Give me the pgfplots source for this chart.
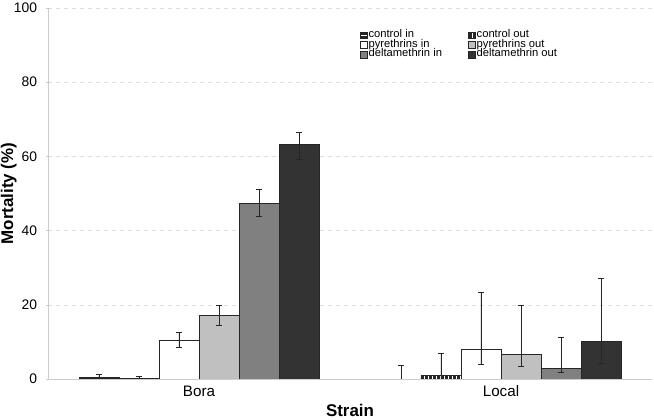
\documentclass[border=0pt]{standalone}
\usepackage{pgfplots}
\pgfplotsset{compat=1.18}
\usepackage{fontspec}
\setmainfont{Liberation Sans}
\usetikzlibrary{patterns}
\definecolor{pyrout}{HTML}{C0C0C0}
\definecolor{deltin}{HTML}{808080}
\definecolor{deltout}{HTML}{333333}
\begin{document}
\begin{tikzpicture}
\begin{axis}[
    name=ax,
    scale only axis,
    width=453pt, height=278.25pt,
    ybar, bar width=0.1325,
    xmin=-0.5, xmax=1.5,
    ymin=0, ymax=100,
    ytick={0,20,...,100},
    xtick={0,1}, xticklabels={Bora,Local},
    major x tick style={draw=none},
    extra x ticks={-0.5,0.5,1.5},
    extra x tick labels={},
    extra x tick style={major tick length=4pt, tick style={gray!40}},
    tick align=outside,
    major tick length=3pt,
    tick style={gray!40},
    axis x line=bottom, axis y line=left,
    axis line style={gray!40, -},
    ymajorgrids, grid style={dashed, gray!25},
    /pgf/number format/assume math mode=true,
    xticklabel style={font=\fontsize{11.4}{13}\selectfont},
    yticklabel style={font=\fontsize{10.4}{12}\selectfont, inner sep=0pt, xshift=-6.5pt},
    ylabel={\textbf{Mortality (\%)}},
    xlabel={\textbf{Strain}},
    label style={font=\fontsize{12.7}{14}\selectfont},
    ylabel style={at={(axis description cs:0,0.5)}, anchor=south, inner sep=0pt, yshift=23.25pt},
    xlabel style={at={(axis description cs:0.5,0)}, anchor=base, inner sep=0pt, yshift=-28.5pt},
    legend columns=2,
    legend cell align=left,
    legend style={draw=none, fill=none, inner sep=0pt, at={(0.5166,0.94)}, anchor=north west,
        font=\fontsize{8.4}{8.4}\selectfont, row sep=0pt,
        nodes={inner xsep=0.8pt, inner ysep=0pt, text height=5.4pt, text depth=1.8pt},
        /tikz/every even column/.append style={column sep=19pt}},
    legend image code/.code={\draw[#1] (0pt,-2.5pt) rectangle (5pt,2.5pt);},
    error bars/y dir=both, error bars/y explicit,
    error bars/error bar style={black!85, line width=0.6pt},
    error bars/error mark options={rotate=90, mark size=2.2pt, black!85, line width=0.6pt},
]
\addplot[bar shift=-0.33125, draw=black!85, fill=black!85, postaction={pattern=horizontal lines, pattern color=white}] coordinates {
    (0,0.6) += (0,0.7) -= (0,0.5)
};
\addlegendentry{control in}
\addplot[bar shift=-0.19875, draw=black!85, fill=black!85, postaction={pattern=vertical lines, pattern color=white}] coordinates {
    (0,0.2) += (0,0.5) -= (0,0.2)
    (1,1.0) += (0,5.8) -= (0,1.0)
};
\addlegendentry{control out}
\addplot[bar shift=-0.06625, draw=black!85, fill=white] coordinates {
    (0,10.4) += (0,2.2) -= (0,2.0)
    (1,8.0) += (0,15.4) -= (0,4.1)
};
\addlegendentry{pyrethrins in}
\addplot[bar shift=0.06625, draw=black!85, fill=pyrout] coordinates {
    (0,17.2) += (0,2.7) -= (0,2.8)
    (1,6.7) += (0,13.2) -= (0,3.4)
};
\addlegendentry{pyrethrins out}
\addplot[bar shift=0.19875, draw=black!85, fill=deltin] coordinates {
    (0,47.4) += (0,3.8) -= (0,3.5)
    (1,2.9) += (0,8.3) -= (0,1.1)
};
\addlegendentry{deltamethrin in}
\addplot[bar shift=0.33125, draw=black!85, fill=deltout] coordinates {
    (0,63.2) += (0,3.4) -= (0,3.9)
    (1,10.1) += (0,17.0) -= (0,5.9)
};
\addlegendentry{deltamethrin out}
% Local, control in: value 0, only its error bar shows
\addplot[bar shift=-0.33125, draw=none, fill=none, forget plot] coordinates {
    (1,0) += (0,3.7) -= (0,0)
};
\end{axis}
\pgfresetboundingbox
\path[use as bounding box] ([xshift=-36pt,yshift=-30.75pt]ax.south west) rectangle ([xshift=1.5pt,yshift=6pt]ax.north east);
\end{tikzpicture}
\end{document}
